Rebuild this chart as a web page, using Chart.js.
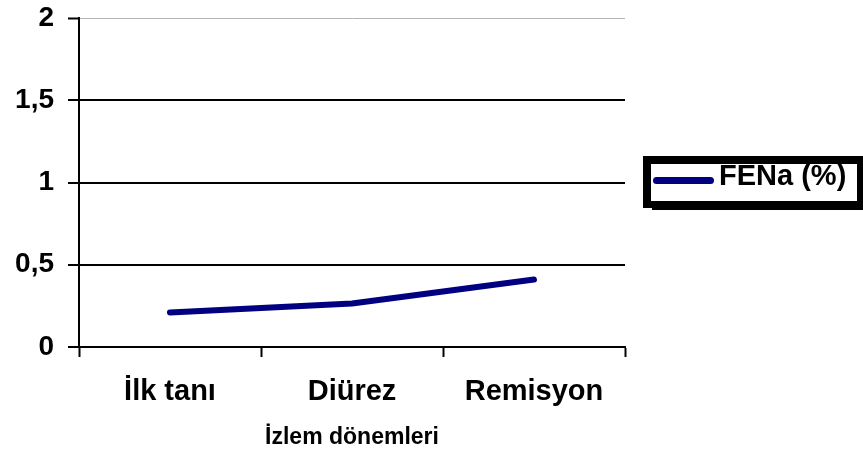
<!DOCTYPE html>
<html>
<head>
<meta charset="utf-8">
<script src="https://cdn.jsdelivr.net/npm/chart.js@4"></script>
<style>
  html, body { margin: 0; padding: 0; background: #fff; }
  #wrap { width: 863px; height: 452px; }
</style>
</head>
<body>
<div id="wrap"><canvas id="c" width="863" height="452"></canvas></div>
<script>
// Follow-up periods and mean FENa (%) in each
const categories = ['İlk tanı', 'Diürez', 'Remisyon'];
const fenaValues = [0.21, 0.265, 0.41];
const yTickValues = [0, 0.5, 1, 1.5, 2];
const seriesLabel = 'FENa (%)';
const axisTitle = 'İzlem dönemleri';

const FONT = '"Liberation Sans", Arial, sans-serif';
const NAVY = '#000080';

// Boxed legend on the right with a heavy frame and drop shadow
const boxedLegend = {
  id: 'boxedLegend',
  afterDraw(chart) {
    const ctx = chart.ctx;
    const ds = chart.data.datasets[0];
    ctx.save();
    ctx.fillStyle = '#000';
    ctx.fillRect(643, 156, 220, 52);
    ctx.fillRect(652, 201, 211, 9);
    ctx.fillStyle = '#fff';
    ctx.fillRect(651, 164, 206, 37);
    ctx.strokeStyle = ds.borderColor;
    ctx.lineWidth = 7;
    ctx.lineCap = 'round';
    ctx.beginPath();
    ctx.moveTo(656.5, 180.5);
    ctx.lineTo(710.5, 180.5);
    ctx.stroke();
    ctx.fillStyle = '#000';
    ctx.font = 'bold 29px ' + FONT;
    ctx.textAlign = 'left';
    ctx.textBaseline = 'alphabetic';
    ctx.fillText(ds.label, 719, 185);
    ctx.restore();
  }
};

new Chart(document.getElementById('c'), {
  type: 'line',
  data: {
    labels: categories,
    datasets: [{
      label: seriesLabel,
      data: fenaValues,
      borderColor: NAVY,
      backgroundColor: NAVY,
      borderWidth: 6,
      borderCapStyle: 'round',
      borderJoinStyle: 'round',
      pointRadius: 0,
      pointHoverRadius: 0,
      tension: 0,
      fill: false
    }]
  },
  options: {
    responsive: false,
    animation: false,
    devicePixelRatio: 1,
    layout: { padding: { left: 0, right: 238, top: 18, bottom: 0 } },
    plugins: {
      legend: { display: false },
      tooltip: { enabled: false }
    },
    scales: {
      x: {
        type: 'category',
        offset: true,
        afterFit(scale) {
          scale.height = 105;
          scale.paddingLeft = 0;
          scale.paddingRight = 0;
        },
        grid: {
          offset: true,
          drawOnChartArea: false,
          drawTicks: true,
          tickLength: 10,
          tickWidth: 2,
          tickColor: '#000'
        },
        border: { display: true, color: '#000', width: 2 },
        ticks: {
          color: '#000',
          padding: 18,
          maxRotation: 0,
          font: { family: FONT, size: 29, weight: 'bold' }
        },
        title: {
          display: true,
          text: axisTitle,
          color: '#000',
          padding: { top: 0, bottom: 1 },
          font: { family: FONT, size: 23, weight: 'bold' }
        }
      },
      y: {
        min: 0,
        max: 2,
        afterFit(scale) {
          scale.width = 79;
          scale.paddingTop = 0;
          scale.paddingBottom = 0;
        },
        afterBuildTicks(scale) {
          scale.ticks = yTickValues.map(v => ({ value: v }));
        },
        grid: {
          color: ctx => (ctx.tick && ctx.tick.value === 2) ? '#b4b4b4' : '#000',
          lineWidth: ctx => (ctx.tick && ctx.tick.value === 2) ? 1 : 2,
          tickLength: 11,
          tickWidth: 2,
          tickColor: '#000'
        },
        border: { display: true, color: '#000', width: 2 },
        ticks: {
          color: '#000',
          padding: 14,
          font: { family: FONT, size: 28, weight: 'bold' },
          callback: v => String(v).replace('.', ',')
        }
      }
    }
  },
  plugins: [boxedLegend]
});
</script>
</body>
</html>
